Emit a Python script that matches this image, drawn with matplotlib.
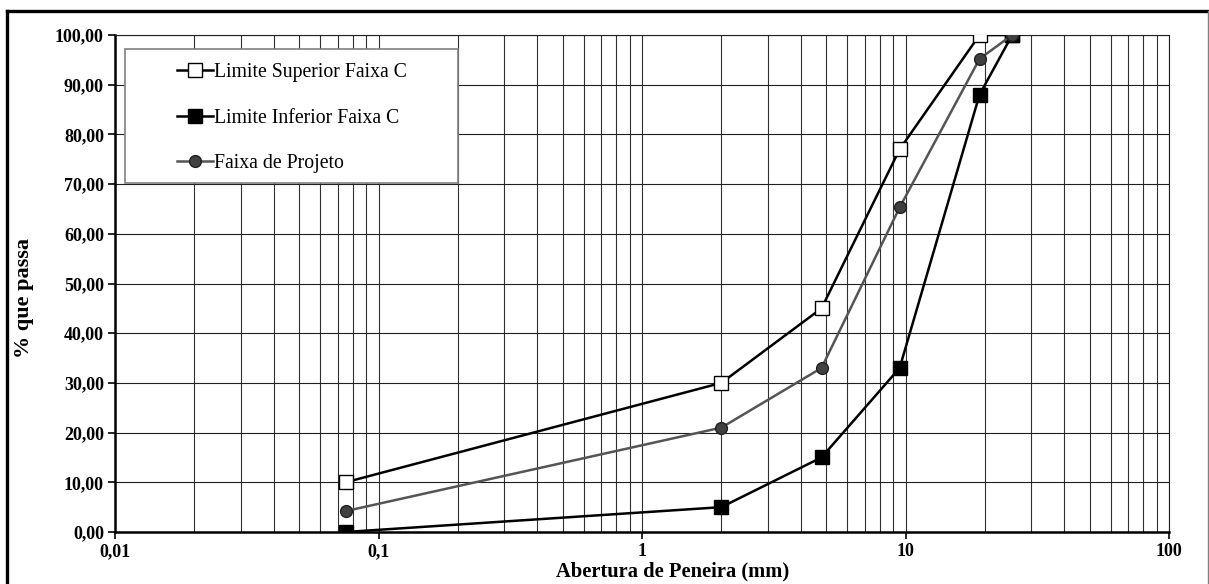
#!/usr/bin/env python3
# -*- coding: utf-8 -*-

import matplotlib
matplotlib.use("Agg")
import matplotlib.pyplot as plt
from matplotlib.patches import Rectangle
from matplotlib.ticker import FuncFormatter, LogLocator, FixedLocator

# peneiras (mm) e porcentagens passantes
abertura = [0.075, 2.0, 4.8, 9.5, 19.1, 25.4]
lim_sup = [10.0, 30.0, 45.0, 77.0, 100.0, 100.0]
lim_inf = [0.0, 5.0, 15.0, 33.0, 88.0, 100.0]
projeto = [4.2, 21.0, 33.0, 65.3, 95.2, 100.0]

x_ticks = [0.01, 0.1, 1, 10, 100]
x_ticklabels = ["0,01", "0,1", "1", "10", "100"]
y_ticks = [0, 10, 20, 30, 40, 50, 60, 70, 80, 90, 100]

plt.rcParams["font.family"] = ["Liberation Serif", "DejaVu Serif"]

W, H = 1209, 584
fig = plt.figure(figsize=(W / 100, H / 100), dpi=100)
ax = fig.add_axes([115 / W, 1 - 532 / H, (1169 - 115) / W, (532 - 35) / H])

ax.set_xscale("log")
ax.set_xlim(0.01, 100)
ax.set_ylim(0, 100)

# grade
ax.xaxis.set_major_locator(FixedLocator(x_ticks))
ax.xaxis.set_minor_locator(LogLocator(base=10, subs=range(2, 10)))
ax.yaxis.set_major_locator(FixedLocator(y_ticks))
ax.grid(True, which="both", axis="x", color="#303030", lw=0.8)
ax.grid(True, which="major", axis="y", color="#202020", lw=0.8)
ax.set_axisbelow(True)

ax.set_xticklabels(x_ticklabels)
ax.yaxis.set_major_formatter(FuncFormatter(lambda v, p: f"{v:.2f}".replace(".", ",")))
ax.tick_params(axis="both", which="major", direction="out", length=5, width=1.2,
               labelsize=13, color="black", pad=3)
ax.tick_params(axis="x", which="minor", length=0)
for lab in ax.get_xticklabels() + ax.get_yticklabels():
    lab.set_fontweight("bold")

for s in ["left", "bottom"]:
    ax.spines[s].set_linewidth(1.8)
for s in ["top", "right"]:
    ax.spines[s].set_linewidth(0.8)
    ax.spines[s].set_color("#202020")

ax.set_xlabel("Abertura de Peneira (mm)", fontsize=14.8, fontweight="bold", va="center")
ax.xaxis.set_label_coords((673 - 115) / 1054, -(571 - 532) / 497)
ax.set_ylabel("% que passa", fontsize=16, fontweight="bold", va="center")
ax.yaxis.set_label_coords((24 - 115) / 1054, 1 - (298 - 35) / 497)

ax.plot(abertura, lim_sup, color="black", lw=1.8, marker="s", ms=9.5,
        mfc="white", mec="black", mew=1.0, label="Limite Superior Faixa C", zorder=3)
ax.plot(abertura, lim_inf, color="black", lw=1.8, marker="s", ms=9.5,
        mfc="black", mec="black", mew=1.0, label="Limite Inferior Faixa C", zorder=3)
ax.plot(abertura, projeto, color="#555555", lw=1.8, marker="o", ms=8.5,
        mfc="#404040", mec="#202020", mew=1.0, label="Faixa de Projeto", zorder=4)

# caixa da legenda
box = Rectangle((125 / W, 1 - 183 / H), (458 - 125) / W, (183 - 49) / H,
                transform=fig.transFigure, facecolor="white", edgecolor="#808080",
                lw=1.2, zorder=5)
ax.add_patch(box)
box.set_clip_on(False)
leg = ax.legend(loc="upper left", bbox_to_anchor=(177 / W, 1 - 63 / H),
                bbox_transform=fig.transFigure, frameon=False, fontsize=14.2,
                handlelength=1.8, handletextpad=0.1, labelspacing=1.35, borderpad=0,
                borderaxespad=0)
leg.set_zorder(6)

# moldura externa
fig.add_artist(plt.Line2D([7 / W, 7 / W], [0, 1 - 11 / H], color="black", lw=2.4))
fig.add_artist(plt.Line2D([7 / W, 1208 / W], [1 - 11 / H, 1 - 11 / H], color="black", lw=2.4))
fig.add_artist(plt.Line2D([1208 / W, 1208 / W], [0, 1 - 11 / H], color="#808080", lw=1.0))

fig.savefig("out.png", dpi=100)
